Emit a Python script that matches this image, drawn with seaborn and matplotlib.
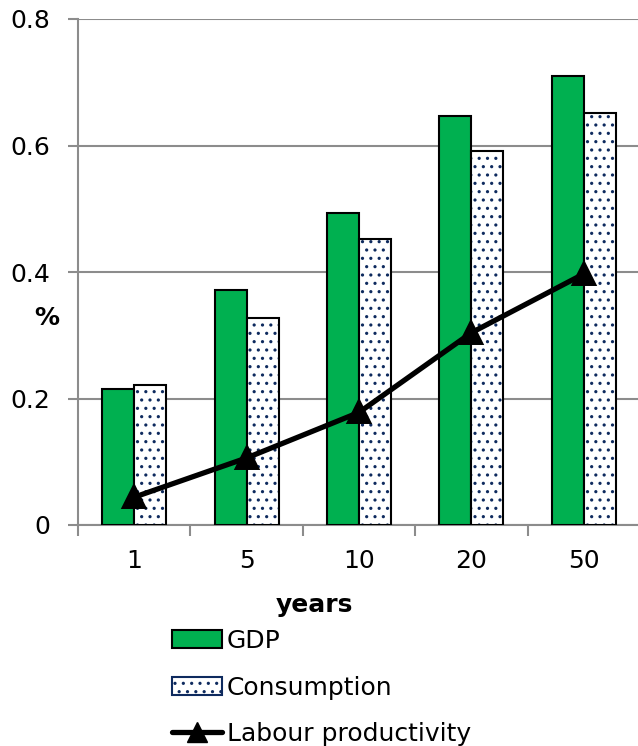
import matplotlib
matplotlib.use("Agg")
import matplotlib.pyplot as plt
from matplotlib.patches import Rectangle
from matplotlib.lines import Line2D
import seaborn as sns
import pandas as pd

# Cumulative effects by horizon (years)
years = ["1", "5", "10", "20", "50"]
gdp = [0.215, 0.371, 0.494, 0.647, 0.710]
consumption = [0.222, 0.328, 0.452, 0.592, 0.651]
labour_productivity = [0.044, 0.106, 0.178, 0.304, 0.397]

GREEN = "#00B050"
DOT = "#0E2A5E"
GRID = "#8C8C8C"
FS = 18

sns.set_style("white")
plt.rcParams["font.family"] = ["DejaVu Sans"]
plt.rcParams["hatch.linewidth"] = 1.1
plt.rcParams["text.color"] = "black"
plt.rcParams["xtick.color"] = "black"
plt.rcParams["ytick.color"] = "black"

bars = pd.DataFrame({
    "years": years * 2,
    "value": gdp + consumption,
    "series": ["GDP"] * len(years) + ["Consumption"] * len(years),
})
line = pd.DataFrame({"years": years, "value": labour_productivity})

fig = plt.figure(figsize=(6.38, 7.46), dpi=100)
W, H = 638, 746
ax = fig.add_axes([78 / W, (H - 525) / H, 562 / W, 506 / H])

sns.barplot(data=bars, x="years", y="value", hue="series",
            palette={"GDP": GREEN, "Consumption": "white"},
            saturation=1, width=0.57, edgecolor="black", linewidth=1.5,
            legend=False, ax=ax, zorder=3)

# dotted fill for the consumption bars, outline kept black on top
n = len(years)
for p in ax.patches[n:2 * n]:
    p.set_hatch("..")
    p.set_edgecolor(DOT)
    p.set_linewidth(0)
    ax.add_patch(Rectangle(p.get_xy(), p.get_width(), p.get_height(),
                           fill=False, edgecolor="black", linewidth=1.5,
                           zorder=4))

sns.pointplot(data=line, x="years", y="value", color="black",
              markers="^", linestyles="-", ax=ax,
              markersize=14, linewidth=3.8, zorder=5)

ax.set_xlim(-0.5, len(years) - 0.5)
ax.set_ylim(0, 0.8)
ax.set_yticks([0, 0.2, 0.4, 0.6, 0.8])
ax.set_yticklabels(["0", "0.2", "0.4", "0.6", "0.8"])
ax.yaxis.grid(True, color=GRID, linewidth=1.5, zorder=0)
ax.set_axisbelow(True)

for side in ["top", "right"]:
    ax.spines[side].set_visible(False)
for side in ["left", "bottom"]:
    ax.spines[side].set_color(GRID)
    ax.spines[side].set_linewidth(1.5)

ax.tick_params(axis="y", which="major", direction="out", length=7,
               width=1.5, color=GRID, labelcolor="black", pad=13,
               labelsize=FS, left=True)
ax.set_xticks(range(len(years)))
ax.set_xticklabels(years)
ax.set_xticks([i - 0.5 for i in range(len(years) + 1)], minor=True)
ax.tick_params(axis="x", which="major", length=0, pad=17, labelsize=FS,
               labelcolor="black")
ax.tick_params(axis="x", which="minor", direction="out", length=8,
               width=1.5, color=GRID, bottom=True)

ax.set_xlabel("")
ax.set_ylabel("")
fig.text(47 / W, 1 - 318 / H, "%", fontsize=FS, fontweight="bold",
         ha="center", va="center")
fig.text(314 / W, 1 - 605 / H, "years", fontsize=FS, fontweight="bold",
         ha="center", va="center")

handles = [
    Rectangle((0, 0), 1, 1, facecolor=GREEN, edgecolor="black", linewidth=1.5),
    Rectangle((0, 0), 1, 1, facecolor="white", edgecolor=DOT, hatch="..",
              linewidth=1.5),
    Line2D([], [], color="black", linewidth=3.8, marker="^", markersize=14),
]
leg = fig.legend(handles, ["GDP", "Consumption", "Labour productivity"],
                 loc="upper left", bbox_to_anchor=(172 / W, 1 - 629 / H),
                 frameon=False, fontsize=FS, handlelength=2.0,
                 handleheight=0.72, handletextpad=0.2, labelspacing=0.9,
                 borderpad=0, borderaxespad=0)

fig.savefig("out.png", dpi=100)
